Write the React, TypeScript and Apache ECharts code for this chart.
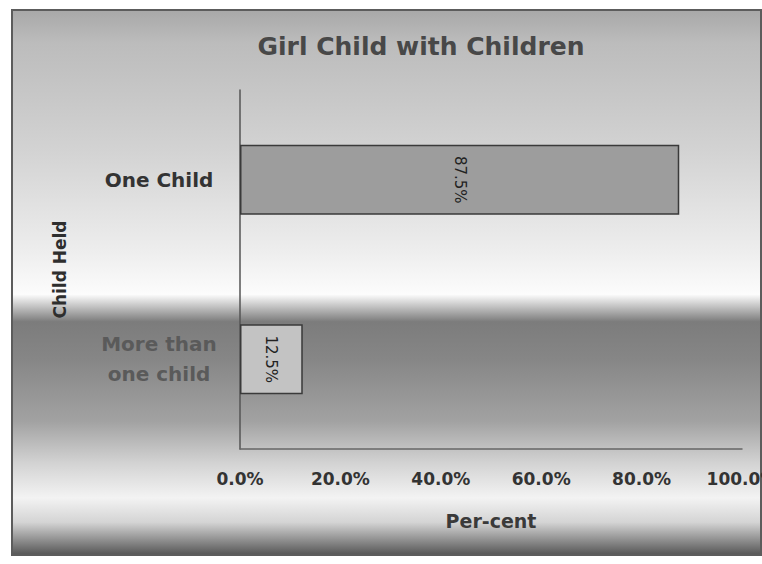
import React, { useEffect, useRef } from "react";
import * as echarts from "echarts";

// Girl child respondents grouped by number of children held
const categories: string[] = ["One Child", "More than\none child"];
const percentValues: number[] = [87.5, 12.5];
const xTicks: number[] = [0, 20, 40, 60, 80, 100];

const chartTitle = "Girl Child with Children";
const xAxisName = "Per-cent";
const yAxisName = "Child Held";

const FONT = "'DejaVu Sans', Verdana, sans-serif";

export default function App() {
  const ref = useRef<HTMLDivElement | null>(null);

  useEffect(() => {
    document.body.style.margin = "0";
    if (!ref.current) return;
    const chart = echarts.init(ref.current, undefined, { renderer: "svg" });

    const barFills = ["#9d9d9d", "#c3c3c3"];

    const option: any = {
      animation: false,
      backgroundColor: "#ffffff",
      title: {
        text: chartTitle,
        left: 416,
        top: 29,
        textAlign: "center",
        textStyle: {
          fontFamily: FONT,
          fontWeight: "bold",
          fontSize: 25,
          color: "#484848",
        },
      },
      graphic: [
        {
          type: "rect",
          z: -100,
          silent: true,
          shape: { x: 12, y: 10, width: 749, height: 545 },
          style: {
            fill: new echarts.graphic.LinearGradient(0, 0, 0, 1, [
              { offset: 0, color: "#a8a8a8" },
              { offset: 0.06, color: "#bcbcbc" },
              { offset: 0.26, color: "#d3d3d3" },
              { offset: 0.44, color: "#ededed" },
              { offset: 0.522, color: "#fcfcfc" },
              { offset: 0.55, color: "#b4b4b4" },
              { offset: 0.572, color: "#7c7c7c" },
              { offset: 0.64, color: "#868686" },
              { offset: 0.755, color: "#a2a2a2" },
              { offset: 0.83, color: "#d2d2d2" },
              { offset: 0.895, color: "#f3f3f3" },
              { offset: 0.94, color: "#d4d4d4" },
              { offset: 0.975, color: "#8a8a8a" },
              { offset: 1, color: "#555555" },
            ]),
            stroke: "#5c5c5c",
            lineWidth: 2,
          },
        },
      ],
      grid: {
        left: 240,
        right: 20,
        top: 90,
        bottom: 115,
        containLabel: false,
        outerBoundsMode: "none",
      },
      xAxis: {
        type: "value",
        min: xTicks[0],
        max: xTicks[xTicks.length - 1],
        interval: 20,
        name: xAxisName,
        nameLocation: "middle",
        nameGap: 62,
        nameTextStyle: {
          fontFamily: FONT,
          fontWeight: "bold",
          fontSize: 19,
          color: "#3a3a3a",
        },
        axisLine: { show: true, lineStyle: { color: "#666666", width: 1.5 } },
        axisTick: { show: false },
        splitLine: { show: false },
        axisLabel: {
          margin: 21,
          fontFamily: FONT,
          fontWeight: "bold",
          fontSize: 17,
          color: "#333333",
          formatter: (v: number) => `${v.toFixed(1)}%`,
        },
      },
      yAxis: {
        type: "category",
        inverse: true,
        data: categories,
        name: yAxisName,
        nameLocation: "middle",
        nameRotate: 90,
        nameGap: 172,
        nameTextStyle: {
          fontFamily: FONT,
          fontWeight: "bold",
          fontSize: 17,
          color: "#2e2e2e",
        },
        axisLine: { show: true, lineStyle: { color: "#555555", width: 1.5 } },
        axisTick: { show: false },
        splitLine: { show: false },
        axisLabel: {
          margin: 81,
          align: "center",
          formatter: (v: string, i: number) =>
            v
              .split("\n")
              .map((line) => `{${i === 0 ? "a" : "b"}|${line}}`)
              .join("\n"),
          rich: {
            a: {
              fontFamily: FONT,
              fontWeight: "bold",
              fontSize: 20,
              color: "#333333",
              lineHeight: 28,
            },
            b: {
              fontFamily: FONT,
              fontWeight: "bold",
              fontSize: 20,
              color: "#5a5a5a",
              lineHeight: 30,
            },
          },
        },
      },
      series: [
        {
          type: "bar",
          barWidth: 70,
          data: percentValues.map((v, i) => ({
            value: v,
            itemStyle: {
              color: barFills[i],
              borderColor: "#3a3a3a",
              borderWidth: 1.5,
            },
          })),
          label: {
            show: true,
            position: "inside",
            rotate: -90,
            fontFamily: FONT,
            fontSize: 15,
            color: "#222222",
            formatter: (p: any) => `${Number(p.value).toFixed(1)}%`,
          },
        },
      ],
    };

    chart.setOption(option);
    return () => {
      chart.dispose();
    };
  }, []);

  return <div ref={ref} style={{ width: 762, height: 564 }} />;
}
